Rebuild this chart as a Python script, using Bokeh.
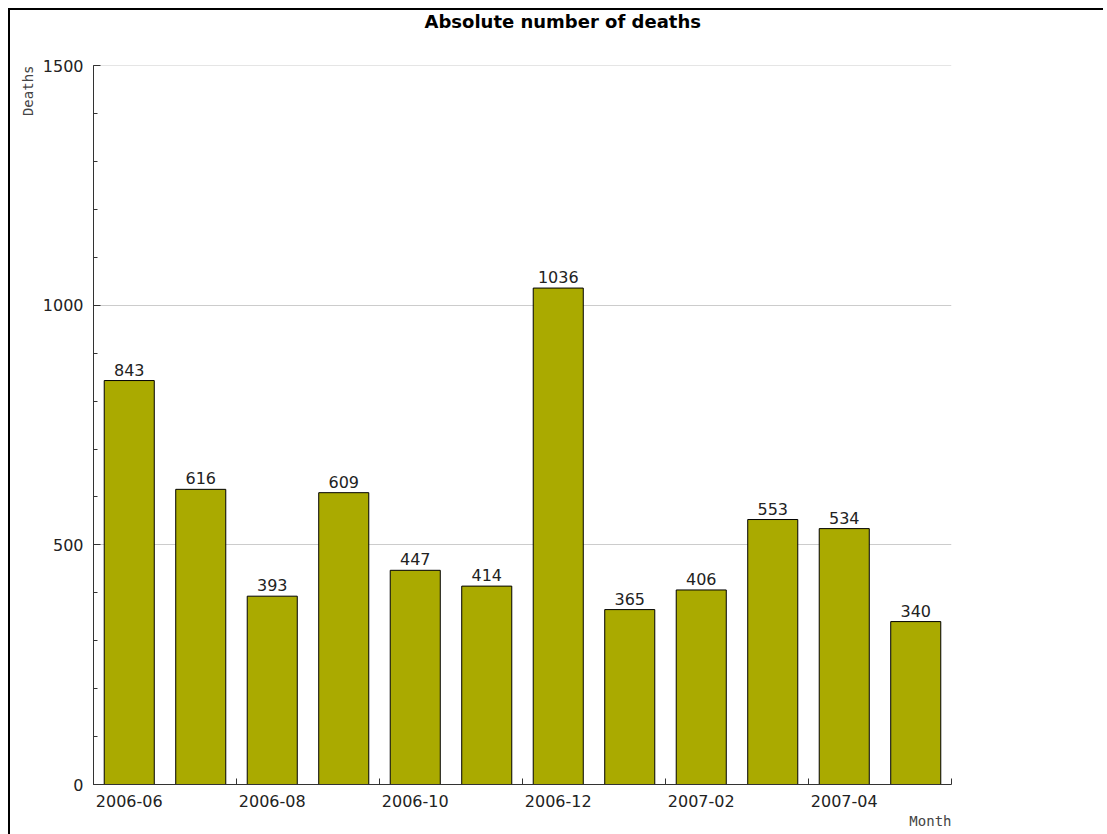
from bokeh.plotting import figure
from bokeh.models import ColumnDataSource, Range1d, FixedTicker, SingleIntervalTicker, Title
from bokeh.core.properties import value
from bokeh.embed import file_html
from bokeh.resources import INLINE

months = ["2006-06", "2006-07", "2006-08", "2006-09", "2006-10", "2006-11",
          "2006-12", "2007-01", "2007-02", "2007-03", "2007-04", "2007-05"]
deaths = [843, 616, 393, 609, 447, 414, 1036, 365, 406, 553, 534, 340]

xs = [i + 0.5 for i in range(len(months))]
src = ColumnDataSource(dict(x=xs, deaths=deaths, label=[str(d) for d in deaths], month=months))

p = figure(output_backend="svg", toolbar_location=None,
           frame_width=858, frame_height=719,
           min_border_left=83, min_border_right=152, min_border_top=55, min_border_bottom=50,
           x_range=Range1d(0, len(months)), y_range=Range1d(0, 1500.5),
           background_fill_color="white", border_fill_color="white")
p.styles = {"border-top": "2px solid black", "border-left": "2px solid black",
            "margin-left": "8px", "margin-top": "8px"}
p.outline_line_color = None

p.title.text = "Absolute number of deaths"
p.title.align = "left"
p.title.offset = 331
p.title.standoff = 0
p.title.vertical_align = "top"
p.title.text_font = "DejaVu Sans"
p.title.text_font_size = "18px"
p.title.text_font_style = "bold"
p.title.text_color = "black"

# invisible spacer between the title and the plot frame
p.add_layout(Title(text=".", text_font_size="16px", text_color="white", standoff=18), "above")

p.vbar(x="x", top="deaths", bottom=0, width=0.7, source=src,
       fill_color="#aaaa00", line_color="black", line_width=1)
p.text(x="x", y="deaths", text="label", source=src, text_align="center",
       text_baseline="bottom", y_offset=-5, text_font=value("DejaVu Sans"),
       text_font_size="16px", text_color="#222222")

# x axis: labels every other month centred on its bar, tick marks at category boundaries
label_pos = [xs[i] for i in range(0, len(months), 2)]
boundary = [float(i) for i in range(0, len(months) + 1, 2)]
p.xaxis.ticker = FixedTicker(ticks=label_pos, minor_ticks=boundary)
p.xaxis.major_label_overrides = {xs[i]: months[i] for i in range(0, len(months), 2)}
p.xaxis.major_tick_in = 0
p.xaxis.major_tick_out = 0
p.xaxis.minor_tick_in = 6
p.xaxis.minor_tick_out = 0
p.xaxis.major_label_standoff = 10

p.yaxis.ticker = SingleIntervalTicker(interval=500, num_minor_ticks=5)
p.yaxis.major_tick_in = 7
p.yaxis.major_tick_out = 0
p.yaxis.minor_tick_in = 4
p.yaxis.minor_tick_out = 0
p.yaxis.major_label_standoff = 10

for ax in (p.xaxis, p.yaxis):
    ax.axis_line_color = "#333333"
    ax.major_tick_line_color = "#333333"
    ax.minor_tick_line_color = "#333333"
    ax.major_label_text_font = "DejaVu Sans"
    ax.major_label_text_font_size = "16px"
    ax.major_label_text_color = "#222222"

p.xgrid.grid_line_color = None
p.ygrid.grid_line_color = "#cccccc"

p.add_layout(Title(text="Month", align="right", text_font="DejaVu Sans Mono",
                   text_font_size="14px", text_font_style="normal", standoff=2), "below")
p.add_layout(Title(text="Deaths", align="right", text_font="DejaVu Sans Mono",
                   text_font_size="14px", text_font_style="normal", standoff=8), "left")

open("out.html", "w").write(file_html(p, INLINE))
